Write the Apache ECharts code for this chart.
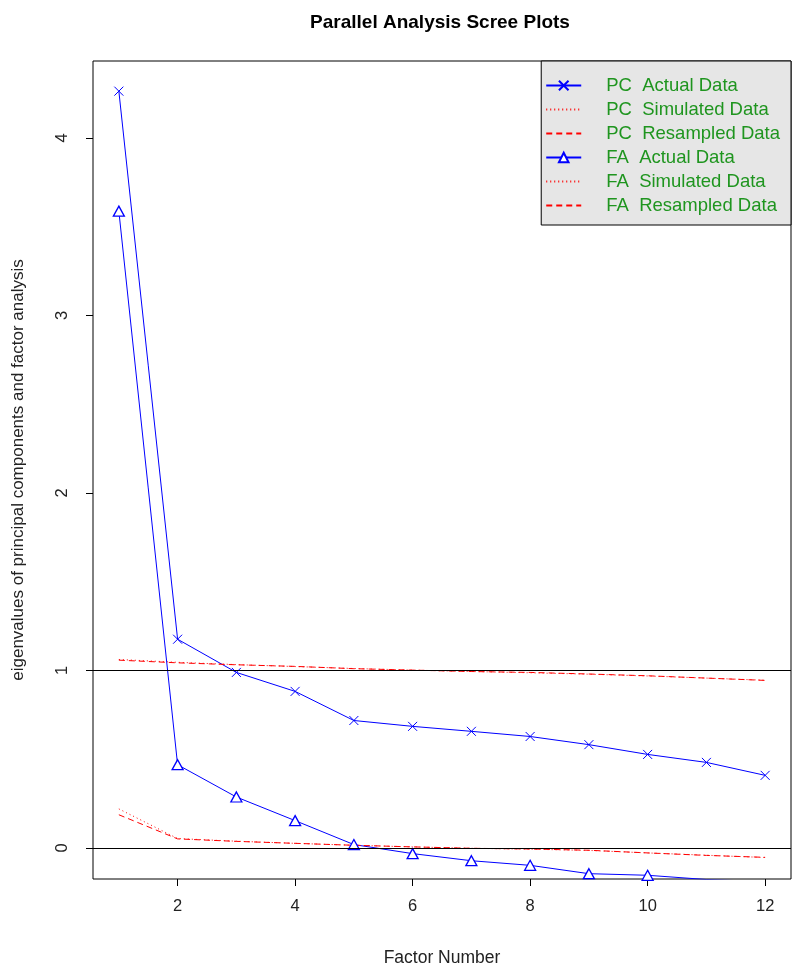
<!DOCTYPE html>
<html>
<head>
<meta charset="utf-8">
<script src="https://cdn.jsdelivr.net/npm/echarts@6/dist/echarts.min.js"></script>
<style>
html,body{margin:0;padding:0;background:#fff;}
#chart{width:800px;height:973px;}
</style>
</head>
<body>
<div id="chart"></div>
<script>
// ---- data ----
var factors = [1, 2, 3, 4, 5, 6, 7, 8, 9, 10, 11, 12];
var pcActual = [4.264, 1.176, 0.989, 0.882, 0.718, 0.685, 0.657, 0.628, 0.582, 0.527, 0.482, 0.409];
var pcSimulated = [1.062, 1.046, 1.033, 1.022, 1.011, 1.002, 0.994, 0.987, 0.979, 0.969, 0.957, 0.945];
var pcResampled = [1.058, 1.043, 1.032, 1.023, 1.010, 1.002, 0.994, 0.989, 0.980, 0.970, 0.957, 0.944];
var faActual = [3.588, 0.469, 0.287, 0.154, 0.019, -0.032, -0.072, -0.098, -0.145, -0.154, -0.178, -0.190];
var faSimulated = [0.220, 0.053, 0.038, 0.026, 0.015, 0.006, -0.002, -0.007, -0.014, -0.028, -0.041, -0.054];
var faResampled = [0.187, 0.051, 0.037, 0.026, 0.015, 0.006, -0.002, -0.006, -0.013, -0.028, -0.042, -0.053];
var xTicks = [2, 4, 6, 8, 10, 12];
var yTicks = [0, 1, 2, 3, 4];
var refLines = [1, 0];
var seriesNames = ['PC  Actual Data', 'PC  Simulated Data', 'PC  Resampled Data',
                   'FA  Actual Data', 'FA  Simulated Data', 'FA  Resampled Data'];

function pairs(vals) { return factors.map(function (f, i) { return [f, vals[i]]; }); }

var FONT = '"Liberation Sans", Arial, sans-serif';
var crossPath = 'path://M0,0L10,10M10,0L0,10';
var triPath = 'path://M5,0L10,9L0,9Z';
var BLUE = '#0000ff', RED = '#ff0000';
var DOT = [1, 3], DASH = [6, 4];

var legendData = seriesNames.map(function (n, i) {
  var isActual = (i === 0 || i === 3);
  return isActual ? {name: n} : {name: n, itemStyle: {opacity: 0}};
});

var chart = echarts.init(document.getElementById('chart'), null, {renderer: 'canvas'});
var option = {
  animation: false,
  backgroundColor: '#ffffff',
  title: {
    text: 'Parallel Analysis Scree Plots',
    left: 435, top: 8, textAlign: 'center',
    textStyle: {fontFamily: FONT, fontWeight: 'bold', fontSize: 19, color: '#000'}
  },
  legend: {
    data: legendData,
    orient: 'vertical',
    right: 9, top: 61,
    backgroundColor: '#e6e6e6',
    borderColor: '#000', borderWidth: 1, borderRadius: 0,
    padding: [15, 11, 10, 4],
    itemWidth: 35, itemHeight: 12, itemGap: 5,
    textStyle: {fontFamily: FONT, fontSize: 18.5, lineHeight: 18, color: '#1f951f', padding: [0, 0, 0, 20]}
  },
  grid: {
    left: 93, right: 9, top: 61, bottom: 94,
    show: true, borderColor: '#000', borderWidth: 1, backgroundColor: 'transparent',
    containLabel: false, outerBoundsMode: 'none'
  },
  xAxis: {
    type: 'value', min: 0.56, max: 12.44,
    name: 'Factor Number', nameLocation: 'middle', nameGap: 70,
    nameTextStyle: {fontFamily: FONT, fontSize: 17.5, color: '#222'},
    axisLine: {show: false, onZero: false},
    splitLine: {show: false},
    axisTick: {show: true, length: 7, inside: false, customValues: xTicks, lineStyle: {color: '#000'}},
    axisLabel: {customValues: xTicks, margin: 19, fontFamily: FONT, fontSize: 16.5, color: '#222'}
  },
  yAxis: {
    type: 'value', min: -0.175, max: 4.434,
    name: 'eigenvalues of principal components and factor analysis',
    nameLocation: 'middle', nameGap: 66, nameRotate: 90,
    nameTextStyle: {fontFamily: FONT, fontSize: 17, color: '#222'},
    axisLine: {show: false, onZero: false},
    splitLine: {show: false},
    axisTick: {show: true, length: 7, inside: false, customValues: yTicks, lineStyle: {color: '#000'}},
    axisLabel: {customValues: yTicks, rotate: 90, margin: 22, fontFamily: FONT, fontSize: 16.5, color: '#222'}
  },
  series: [
    {
      name: seriesNames[0], type: 'line', data: pairs(pcActual),
      symbol: crossPath, symbolSize: 9, showSymbol: true,
      lineStyle: {color: BLUE, width: 1},
      itemStyle: {color: BLUE, borderColor: BLUE, borderWidth: 1}
    },
    {
      name: seriesNames[1], type: 'line', data: pairs(pcSimulated),
      symbol: 'circle', showSymbol: false,
      lineStyle: {color: RED, width: 1, type: DOT},
      itemStyle: {color: RED}
    },
    {
      name: seriesNames[2], type: 'line', data: pairs(pcResampled),
      symbol: 'circle', showSymbol: false,
      lineStyle: {color: RED, width: 1, type: DASH},
      itemStyle: {color: RED}
    },
    {
      name: seriesNames[3], type: 'line', data: pairs(faActual),
      symbol: triPath, symbolSize: [11, 10], showSymbol: true,
      lineStyle: {color: BLUE, width: 1},
      itemStyle: {color: '#ffffff', borderColor: BLUE, borderWidth: 1.3}
    },
    {
      name: seriesNames[4], type: 'line', data: pairs(faSimulated),
      symbol: 'circle', showSymbol: false,
      lineStyle: {color: RED, width: 1, type: DOT},
      itemStyle: {color: RED}
    },
    {
      name: seriesNames[5], type: 'line', data: pairs(faResampled),
      symbol: 'circle', showSymbol: false,
      lineStyle: {color: RED, width: 1, type: DASH},
      itemStyle: {color: RED}
    },
    {
      name: 'ref', type: 'line', data: [], silent: true,
      markLine: {
        silent: true, symbol: 'none', animation: false,
        label: {show: false},
        lineStyle: {color: '#000', width: 1, type: 'solid'},
        data: refLines.map(function (v) { return {yAxis: v}; })
      }
    }
  ]
};
chart.setOption(option);
</script>
</body>
</html>
